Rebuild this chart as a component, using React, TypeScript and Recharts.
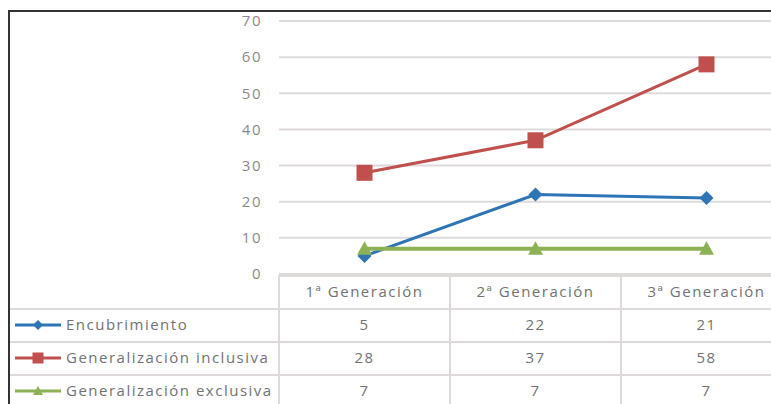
import { CartesianGrid, Line, LineChart, XAxis, YAxis } from "recharts";

const categories = ["1ª Generación", "2ª Generación", "3ª Generación"];
const encubrimiento = [5, 22, 21];
const inclusiva = [28, 37, 58];
const exclusiva = [7, 7, 7];
const yTicks = [0, 10, 20, 30, 40, 50, 60, 70];

const SERIES = [
  { key: "enc", name: "Encubrimiento", values: encubrimiento, color: "#2E75B6", marker: "diamond" },
  { key: "inc", name: "Generalización inclusiva", values: inclusiva, color: "#C0504D", marker: "square" },
  { key: "exc", name: "Generalización exclusiva", values: exclusiva, color: "#8DB255", marker: "triangle" }
];

const rows = categories.map((name, i) => {
  const row: Record<string, string | number> = { name };
  SERIES.forEach((s) => (row[s.key] = s.values[i]));
  return row;
});

const FONT = "'Open Sans', 'Noto Sans', sans-serif";
const TEXT = "#727272";
const GRID = "#DEDADA";
const TXT_STYLE = { fontSize: 15, letterSpacing: 1.5, color: TEXT };

// layout of the plot/table
const PLOT_LEFT = 279;
const PLOT_TOP = 21;
const PLOT_BOTTOM = 274;
const COL_W = 171;
const ROW_TOP = 275;
const ROW_H = 33;

function Marker({ shape, color, cx, cy, size }: { shape: string; color: string; cx: number; cy: number; size: number }) {
  if (cx == null || cy == null) return null;
  const h = size / 2;
  if (shape === "square") {
    return <rect x={cx - h} y={cy - h} width={size} height={size} fill={color} />;
  }
  if (shape === "triangle") {
    return <polygon points={`${cx},${cy - h} ${cx + h},${cy + h * 0.8} ${cx - h},${cy + h * 0.8}`} fill={color} />;
  }
  return <polygon points={`${cx},${cy - h} ${cx + h},${cy} ${cx},${cy + h} ${cx - h},${cy}`} fill={color} />;
}

const MARKER_SIZE: Record<string, number> = { diamond: 14, square: 16, triangle: 15 };

function LegendKey({ shape, color }: { shape: string; color: string }) {
  return (
    <svg width={50} height={16} style={{ position: "absolute", left: 13, top: ROW_H / 2 - 8 }}>
      <line x1={2} y1={8} x2={48} y2={8} stroke={color} strokeWidth={3} />
      <Marker shape={shape} color={color} cx={25} cy={8} size={shape === "square" ? 11 : 10} />
    </svg>
  );
}

export default function App() {
  const hLines = [ROW_TOP + ROW_H, ROW_TOP + ROW_H * 2, ROW_TOP + ROW_H * 3];
  return (
    <div style={{ position: "absolute", left: 0, top: 0, width: 771, height: 404, overflow: "hidden", background: "#fff", fontFamily: FONT }}>
      <LineChart width={800} height={404} data={rows} margin={{ top: PLOT_TOP, right: 800 - PLOT_LEFT - COL_W * 3, bottom: 404 - PLOT_BOTTOM, left: 0 }}>
        <CartesianGrid vertical={false} stroke={GRID} strokeWidth={2} />
        <XAxis dataKey="name" hide padding={{ left: COL_W / 2, right: COL_W / 2 }} />
        <YAxis
          width={PLOT_LEFT}
          domain={[0, 70]}
          ticks={yTicks}
          axisLine={false}
          tickLine={false}
          tickSize={0}
          tickMargin={17}
          tick={{ fill: "#8a8a8a", fontSize: 15, fontFamily: FONT, letterSpacing: 1.5 }}
        />
        {SERIES.map((s) => (
          <Line
            key={s.key}
            dataKey={s.key}
            name={s.name}
            stroke={s.color}
            strokeWidth={s.marker === "triangle" ? 4 : 3}
            isAnimationActive={false}
            dot={(p: any) => <Marker key={`${s.key}-${p.index}`} shape={s.marker} color={s.color} cx={p.cx} cy={p.cy} size={MARKER_SIZE[s.marker]} />}
            activeDot={false}
          />
        ))}
      </LineChart>

      {/* chart frame */}
      <div style={{ position: "absolute", left: 8, top: 10, width: 800, height: 500, borderLeft: "2px solid #333", borderTop: "2px solid #333" }} />

      {/* data table lines */}
      <div style={{ position: "absolute", left: PLOT_LEFT, top: ROW_TOP, width: 600, height: 2, background: GRID }} />
      {hLines.map((y) => (
        <div key={y} style={{ position: "absolute", left: 10, top: y, width: 800, height: 2, background: GRID }} />
      ))}
      {[0, 1, 2].map((i) => (
        <div key={i} style={{ position: "absolute", left: PLOT_LEFT + COL_W * i - 1, top: ROW_TOP, width: 2, height: 200, background: GRID }} />
      ))}

      {/* header row */}
      {categories.map((c, i) => (
        <div
          key={c}
          style={{ ...TXT_STYLE, position: "absolute", left: PLOT_LEFT + COL_W * i, top: ROW_TOP, width: COL_W, height: ROW_H, lineHeight: `${ROW_H}px`, textAlign: "center", whiteSpace: "nowrap" }}
        >
          {c}
        </div>
      ))}

      {/* series rows */}
      {SERIES.map((s, r) => (
        <div key={s.key} style={{ position: "absolute", left: 0, top: ROW_TOP + ROW_H * (r + 1), width: 800, height: ROW_H }}>
          <LegendKey shape={s.marker} color={s.color} />
          <div style={{ ...TXT_STYLE, position: "absolute", left: 66, top: 0, lineHeight: `${ROW_H}px`, whiteSpace: "nowrap" }}>{s.name}</div>
          {s.values.map((v, i) => (
            <div
              key={i}
              style={{ ...TXT_STYLE, position: "absolute", left: PLOT_LEFT + COL_W * i, top: 0, width: COL_W, lineHeight: `${ROW_H}px`, textAlign: "center" }}
            >
              {v}
            </div>
          ))}
        </div>
      ))}
    </div>
  );
}
